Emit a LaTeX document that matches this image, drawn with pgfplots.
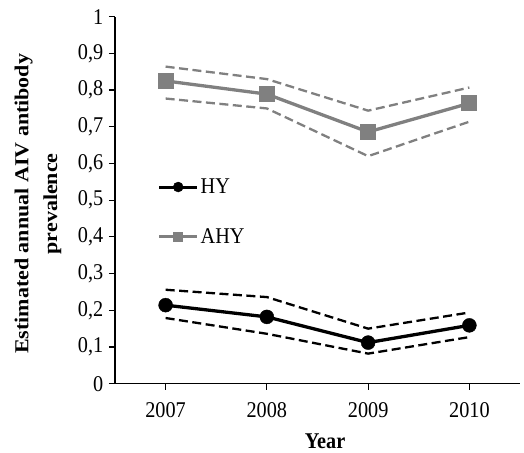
\documentclass[border=0pt]{standalone}
\usepackage{fontspec}
\setmainfont{Liberation Serif}[FakeStretch=0.9]
\newfontfamily\labelfont{Liberation Serif}
\usepackage{pgfplots}
\pgfplotsset{compat=1.18}
\definecolor{ahygray}{RGB}{128,128,128}
\begin{document}
\begin{tikzpicture}
\begin{axis}[
  scale only axis, width=405bp, height=367bp,
  xmin=-0.5, xmax=3.5, ymin=0, ymax=1,
  axis lines=left, axis line style={-, line width=1.3pt},
  xtick={0,1,2,3}, xticklabels={2007,2008,2009,2010},
  ytick={0,0.1,0.2,0.3,0.4,0.5,0.6,0.7,0.8,0.9,1},
  tick align=outside, major tick length=6bp,
  tick style={line width=1.2pt, black},
  /pgf/number format/assume math mode=true,
  /pgf/number format/use comma,
  /pgf/number format/fixed,
  /pgf/number format/precision=1,
  tick label style={font=\fontsize{22.5bp}{26bp}\selectfont, inner sep=0pt},
  yticklabel style={anchor=east, xshift=-5.5bp},
  xticklabel style={anchor=north, yshift=-13bp},
  xlabel={Year},
  xlabel style={font=\fontsize{22.5bp}{26bp}\selectfont\bfseries, at={(axis description cs:0.5185,-0.1765)}, anchor=base, inner sep=0pt},
  ylabel={Estimated annual AIV antibody\\prevalence},
  ylabel style={align=center, font=\labelfont\fontsize{22bp}{32bp}\selectfont\bfseries, at={(axis description cs:-0.19,0.49)}, anchor=center, inner sep=0pt, yscale=0.9},
  legend style={at={(axis cs:-0.08,0.564)}, anchor=north west, draw=none, fill=none,
    font=\fontsize{22.5bp}{26bp}\selectfont, inner sep=0pt, row sep=29.5bp},
  legend cell align=left,
  legend image code/.code={\draw[mark repeat=2,mark phase=2] plot coordinates {(0cm,0cm) (0.67cm,0cm) (1.34cm,0cm)};},
]
% AHY confidence bounds
\addplot[ahygray, line width=2.3bp, dash pattern=on 9bp off 4.5bp, forget plot] coordinates {(0,0.864) (1,0.830) (2,0.744) (3,0.807)};
\addplot[ahygray, line width=2.3bp, dash pattern=on 9bp off 4.5bp, forget plot] coordinates {(0,0.777) (1,0.750) (2,0.620) (3,0.714)};
% HY confidence bounds
\addplot[black, line width=2.3bp, dash pattern=on 9bp off 4.5bp, forget plot] coordinates {(0,0.256) (1,0.236) (2,0.150) (3,0.194)};
\addplot[black, line width=2.3bp, dash pattern=on 9bp off 4.5bp, forget plot] coordinates {(0,0.179) (1,0.136) (2,0.082) (3,0.127)};
% Estimates
\addplot[black, line width=3.3bp, mark=*, mark size=7bp, mark options={solid, fill=black, line width=0.4bp},
  legend image post style={mark size=5bp, line width=3bp}] coordinates {(0,0.214) (1,0.182) (2,0.112) (3,0.159)};
\addlegendentry{HY}
\addplot[ahygray, line width=3.3bp, mark=square*, mark size=7.5bp, mark options={solid, fill=ahygray, line width=0pt},
  legend image post style={mark size=4.5bp, line width=3bp}] coordinates {(0,0.825) (1,0.789) (2,0.686) (3,0.764)};
\addlegendentry{AHY}
\coordinate (bl) at (rel axis cs:0,0);
\coordinate (tr) at (rel axis cs:1,1);
\end{axis}
\pgfresetboundingbox
\path ([xshift=-115bp,yshift=-69bp]bl) rectangle ([xshift=4bp,yshift=16.7bp]tr);
\end{tikzpicture}
\end{document}
